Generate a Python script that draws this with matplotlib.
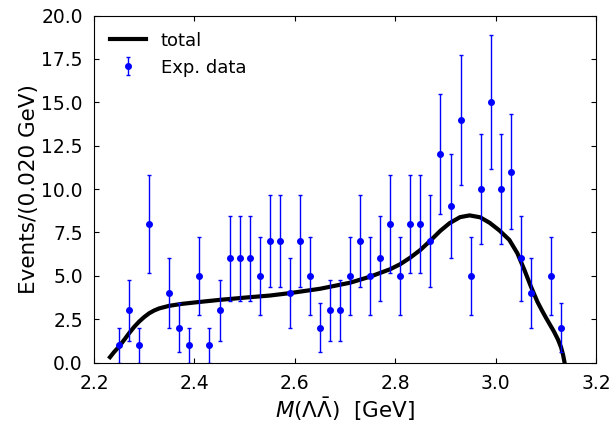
import numpy as np
import matplotlib
matplotlib.use("Agg")
import matplotlib.pyplot as plt

# Measured events per 0.020 GeV bin
mass = [2.25, 2.27, 2.29, 2.31, 2.35, 2.37, 2.39, 2.41, 2.43, 2.45,
        2.47, 2.49, 2.51, 2.53, 2.55, 2.57, 2.59, 2.61, 2.63, 2.65,
        2.67, 2.69, 2.71, 2.73, 2.75, 2.77, 2.79, 2.81, 2.83, 2.85,
        2.87, 2.89, 2.91, 2.93, 2.95, 2.97, 2.99, 3.01, 3.03, 3.05,
        3.07, 3.11, 3.13]
events = [1, 3, 1, 8, 4, 2, 1, 5, 1, 3,
          6, 6, 6, 5, 7, 7, 4, 7, 5, 2,
          3, 3, 5, 7, 5, 6, 8, 5, 8, 8,
          7, 12, 9, 14, 5, 10, 15, 10, 11, 6,
          4, 5, 2]
errors = np.sqrt(events)

# Fit curve (total)
fit_x = [2.232, 2.24, 2.25, 2.26, 2.27, 2.28, 2.29, 2.30, 2.31, 2.32,
         2.33, 2.35, 2.375, 2.40, 2.45, 2.50, 2.55, 2.59, 2.65, 2.71,
         2.75, 2.79, 2.81, 2.83, 2.85, 2.87, 2.89, 2.908, 2.929, 2.948,
         2.969, 2.988, 3.007, 3.027, 3.043, 3.057, 3.070, 3.083, 3.092,
         3.100, 3.108, 3.116, 3.124, 3.130, 3.134, 3.137]
fit_y = [0.31, 0.60, 0.92, 1.30, 1.69, 2.05, 2.36, 2.62, 2.84, 3.00,
         3.12, 3.27, 3.38, 3.46, 3.61, 3.74, 3.86, 4.00, 4.25, 4.60,
         4.95, 5.38, 5.67, 6.05, 6.49, 7.03, 7.60, 8.03, 8.38, 8.48,
         8.37, 8.05, 7.62, 7.07, 6.30, 5.34, 4.38, 3.50, 3.00,
         2.58, 2.18, 1.78, 1.32, 0.88, 0.45, 0.0]

fig, ax = plt.subplots(figsize=(6.14, 4.25), dpi=100)
fig.subplots_adjust(left=0.153, right=0.971, bottom=0.147, top=0.9635)

ax.plot(fit_x, fit_y, color="black", lw=3, label="total")
ax.errorbar(mass, events, yerr=errors, fmt="o", color="blue", ms=4,
            elinewidth=1, capsize=1.5, label="Exp. data")

ax.set_xlim(2.2, 3.2)
ax.set_ylim(0, 20)
ax.set_xlabel(r"$M(\Lambda\bar{\Lambda})$  [GeV]", fontsize=15.5, labelpad=2)
ax.set_ylabel("Events/(0.020 GeV)", fontsize=15.5, labelpad=2)
ax.tick_params(direction="in", top=True, right=True, labelsize=13.5, pad=8)
ax.legend(loc="upper left", frameon=False, fontsize=13)

plt.savefig("out.png")
